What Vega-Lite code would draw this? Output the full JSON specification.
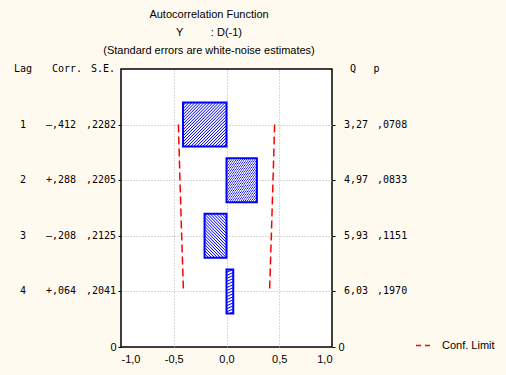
{
  "$schema": "https://vega.github.io/schema/vega-lite/v6.json",
  "autosize": "none",
  "padding": {"left": 121, "top": 69, "right": 174, "bottom": 28},
  "width": 211,
  "height": 278,
  "background": "#fffaef",
  "title": {
    "text": ["Autocorrelation Function", "Y\u00a0\u00a0\u00a0\u00a0\u00a0\u00a0\u00a0\u00a0\u00a0: D(-1)", "(Standard errors are white-noise estimates)"],
    "font": "Liberation Sans",
    "fontSize": 11,
    "fontWeight": "normal",
    "color": "#000000",
    "lineHeight": 18,
    "anchor": "middle",
    "frame": "group",
    "dx": -17.5,
    "offset": 8
  },
  "data": {
    "values": [
      {"lag": 1, "corr": -0.412, "lo": -0.456, "hi": 0.456, "corrText": "–,412", "seText": ",2282", "qText": "3,27", "pText": ",0708"},
      {"lag": 2, "corr": 0.288, "lo": -0.441, "hi": 0.441, "corrText": "+,288", "seText": ",2205", "qText": "4,97", "pText": ",0833"},
      {"lag": 3, "corr": -0.208, "lo": -0.425, "hi": 0.425, "corrText": "–,208", "seText": ",2125", "qText": "5,93", "pText": ",1151"},
      {"lag": 4, "corr": 0.064, "lo": -0.408, "hi": 0.408, "corrText": "+,064", "seText": ",2041", "qText": "6,03", "pText": ",1970"}
    ]
  },
  "resolve": {"axis": {"y": "independent"}},
  "layer": [
    {
      "mark": {
        "type": "bar",
        "orient": "horizontal",
        "size": 44,
        "stroke": "#0000ff",
        "strokeWidth": 2,
        "fill": {
          "gradient": "linear",
          "x1": 0, "y1": 0, "x2": 1, "y2": 1,
          "stops": [
            {"offset": 0, "color": "#0000ff"}, {"offset": 0.0121, "color": "#ffffff"}, {"offset": 0.0224, "color": "#ffffff"},
            {"offset": 0.0345, "color": "#0000ff"}, {"offset": 0.0466, "color": "#ffffff"}, {"offset": 0.0569, "color": "#ffffff"},
            {"offset": 0.069, "color": "#0000ff"}, {"offset": 0.081, "color": "#ffffff"}, {"offset": 0.0914, "color": "#ffffff"},
            {"offset": 0.1034, "color": "#0000ff"}, {"offset": 0.1155, "color": "#ffffff"}, {"offset": 0.1259, "color": "#ffffff"},
            {"offset": 0.1379, "color": "#0000ff"}, {"offset": 0.15, "color": "#ffffff"}, {"offset": 0.1603, "color": "#ffffff"},
            {"offset": 0.1724, "color": "#0000ff"}, {"offset": 0.1845, "color": "#ffffff"}, {"offset": 0.1948, "color": "#ffffff"},
            {"offset": 0.2069, "color": "#0000ff"}, {"offset": 0.219, "color": "#ffffff"}, {"offset": 0.2293, "color": "#ffffff"},
            {"offset": 0.2414, "color": "#0000ff"}, {"offset": 0.2534, "color": "#ffffff"}, {"offset": 0.2638, "color": "#ffffff"},
            {"offset": 0.2759, "color": "#0000ff"}, {"offset": 0.2879, "color": "#ffffff"}, {"offset": 0.2983, "color": "#ffffff"},
            {"offset": 0.3103, "color": "#0000ff"}, {"offset": 0.3224, "color": "#ffffff"}, {"offset": 0.3328, "color": "#ffffff"},
            {"offset": 0.3448, "color": "#0000ff"}, {"offset": 0.3569, "color": "#ffffff"}, {"offset": 0.3672, "color": "#ffffff"},
            {"offset": 0.3793, "color": "#0000ff"}, {"offset": 0.3914, "color": "#ffffff"}, {"offset": 0.4017, "color": "#ffffff"},
            {"offset": 0.4138, "color": "#0000ff"}, {"offset": 0.4259, "color": "#ffffff"}, {"offset": 0.4362, "color": "#ffffff"},
            {"offset": 0.4483, "color": "#0000ff"}, {"offset": 0.4603, "color": "#ffffff"}, {"offset": 0.4707, "color": "#ffffff"},
            {"offset": 0.4828, "color": "#0000ff"}, {"offset": 0.4948, "color": "#ffffff"}, {"offset": 0.5052, "color": "#ffffff"},
            {"offset": 0.5172, "color": "#0000ff"}, {"offset": 0.5293, "color": "#ffffff"}, {"offset": 0.5397, "color": "#ffffff"},
            {"offset": 0.5517, "color": "#0000ff"}, {"offset": 0.5638, "color": "#ffffff"}, {"offset": 0.5741, "color": "#ffffff"},
            {"offset": 0.5862, "color": "#0000ff"}, {"offset": 0.5983, "color": "#ffffff"}, {"offset": 0.6086, "color": "#ffffff"},
            {"offset": 0.6207, "color": "#0000ff"}, {"offset": 0.6328, "color": "#ffffff"}, {"offset": 0.6431, "color": "#ffffff"},
            {"offset": 0.6552, "color": "#0000ff"}, {"offset": 0.6672, "color": "#ffffff"}, {"offset": 0.6776, "color": "#ffffff"},
            {"offset": 0.6897, "color": "#0000ff"}, {"offset": 0.7017, "color": "#ffffff"}, {"offset": 0.7121, "color": "#ffffff"},
            {"offset": 0.7241, "color": "#0000ff"}, {"offset": 0.7362, "color": "#ffffff"}, {"offset": 0.7466, "color": "#ffffff"},
            {"offset": 0.7586, "color": "#0000ff"}, {"offset": 0.7707, "color": "#ffffff"}, {"offset": 0.781, "color": "#ffffff"},
            {"offset": 0.7931, "color": "#0000ff"}, {"offset": 0.8052, "color": "#ffffff"}, {"offset": 0.8155, "color": "#ffffff"},
            {"offset": 0.8276, "color": "#0000ff"}, {"offset": 0.8397, "color": "#ffffff"}, {"offset": 0.85, "color": "#ffffff"},
            {"offset": 0.8621, "color": "#0000ff"}, {"offset": 0.8741, "color": "#ffffff"}, {"offset": 0.8845, "color": "#ffffff"},
            {"offset": 0.8966, "color": "#0000ff"}, {"offset": 0.9086, "color": "#ffffff"}, {"offset": 0.919, "color": "#ffffff"},
            {"offset": 0.931, "color": "#0000ff"}, {"offset": 0.9431, "color": "#ffffff"}, {"offset": 0.9534, "color": "#ffffff"},
            {"offset": 0.9655, "color": "#0000ff"}, {"offset": 0.9776, "color": "#ffffff"}, {"offset": 0.9879, "color": "#ffffff"},
            {"offset": 1, "color": "#0000ff"}
          ]
        }
      },
      "encoding": {
        "x": {
          "field": "corr", "type": "quantitative",
          "scale": {"domain": [-1, 1], "nice": false, "padding": 0},
          "axis": {
            "title": null,
            "values": [-1, -0.5, 0, 0.5, 1],
            "format": ".1f",
            "domain": false,
            "ticks": false,
            "labelFont": "Liberation Sans",
            "labelFontSize": 11,
            "labelColor": "#000000",
            "labelPadding": 6,
            "grid": true,
            "gridColor": "#b0b0b0",
            "gridDash": [1, 2],
            "gridOpacity": {"condition": {"test": "abs(datum.value) == 1", "value": 0}, "value": 1}
          }
        },
        "y": {
          "field": "lag", "type": "quantitative",
          "scale": {"domain": [0, 5], "reverse": true, "nice": false, "zero": false, "padding": 0},
          "axis": {
            "orient": "left",
            "title": null,
            "values": [1, 2, 3, 4, 5],
            "labelExpr": "datum.value == 5 ? '0' : ''",
            "domain": false,
            "ticks": true,
            "tickSize": 3,
            "tickColor": "#000000",
            "labelFont": "Liberation Sans",
            "labelFontSize": 11,
            "labelColor": "#000000",
            "labelPadding": 2,
            "grid": true,
            "gridColor": "#b0b0b0",
            "gridDash": [1, 2],
            "gridOpacity": {"condition": {"test": "datum.value == 5", "value": 0}, "value": 1}
          }
        }
      }
    },
    {
      "transform": [{"fold": ["lo", "hi"], "as": ["side", "limit"]}],
      "mark": {"type": "line", "strokeDash": [8, 4], "strokeWidth": 1.5},
      "encoding": {
        "x": {"field": "limit", "type": "quantitative"},
        "y": {
          "field": "lag", "type": "quantitative",
          "axis": {
            "orient": "right",
            "title": null,
            "values": [1, 2, 3, 4, 5],
            "labelExpr": "datum.value == 5 ? '0' : ''",
            "domain": false,
            "ticks": true,
            "tickSize": 3,
            "tickColor": "#000000",
            "labelFont": "Liberation Sans",
            "labelFontSize": 11,
            "labelColor": "#000000",
            "labelPadding": 3,
            "grid": false
          }
        },
        "detail": {"field": "side"},
        "order": {"field": "lag"},
        "color": {
          "datum": "Conf. Limit",
          "scale": {"range": ["#ff0000"]},
          "legend": {
            "title": null,
            "orient": "none",
            "legendX": 294,
            "legendY": 268,
            "symbolType": "stroke",
            "symbolDash": [5, 4],
            "symbolStrokeWidth": 1.5,
            "symbolSize": 225,
            "labelFont": "Liberation Sans",
            "labelFontSize": 11,
            "labelColor": "#000000",
            "labelOffset": 10
          }
        }
      }
    },
    {
      "mark": {"type": "text", "font": "DejaVu Sans Mono", "fontSize": 10, "align": "center", "baseline": "middle", "color": "#000000"},
      "encoding": {"x": {"datum": -1.929, "type": "quantitative"}, "y": {"field": "lag", "type": "quantitative", "axis": null}, "text": {"field": "lag"}}
    },
    {
      "mark": {"type": "text", "font": "DejaVu Sans Mono", "fontSize": 10, "align": "left", "baseline": "middle", "color": "#000000"},
      "encoding": {"x": {"datum": -1.711, "type": "quantitative"}, "y": {"field": "lag", "type": "quantitative", "axis": null}, "text": {"field": "corrText"}}
    },
    {
      "mark": {"type": "text", "font": "DejaVu Sans Mono", "fontSize": 10, "align": "left", "baseline": "middle", "color": "#000000"},
      "encoding": {"x": {"datum": -1.332, "type": "quantitative"}, "y": {"field": "lag", "type": "quantitative", "axis": null}, "text": {"field": "seText"}}
    },
    {
      "mark": {"type": "text", "font": "DejaVu Sans Mono", "fontSize": 10, "align": "left", "baseline": "middle", "color": "#000000"},
      "encoding": {"x": {"datum": 1.114, "type": "quantitative"}, "y": {"field": "lag", "type": "quantitative", "axis": null}, "text": {"field": "qText"}}
    },
    {
      "mark": {"type": "text", "font": "DejaVu Sans Mono", "fontSize": 10, "align": "left", "baseline": "middle", "color": "#000000"},
      "encoding": {"x": {"datum": 1.427, "type": "quantitative"}, "y": {"field": "lag", "type": "quantitative", "axis": null}, "text": {"field": "pText"}}
    },
    {
      "data": {"values": [{"h": "Lag"}]},
      "mark": {"type": "text", "font": "DejaVu Sans Mono", "fontSize": 10, "align": "left", "baseline": "middle", "color": "#000000"},
      "encoding": {"x": {"datum": -2.014, "type": "quantitative"}, "y": {"datum": 0, "type": "quantitative", "axis": null}, "text": {"field": "h"}}
    },
    {
      "data": {"values": [{"h": "Corr."}]},
      "mark": {"type": "text", "font": "DejaVu Sans Mono", "fontSize": 10, "align": "left", "baseline": "middle", "color": "#000000"},
      "encoding": {"x": {"datum": -1.654, "type": "quantitative"}, "y": {"datum": 0, "type": "quantitative", "axis": null}, "text": {"field": "h"}}
    },
    {
      "data": {"values": [{"h": "S.E."}]},
      "mark": {"type": "text", "font": "DejaVu Sans Mono", "fontSize": 10, "align": "left", "baseline": "middle", "color": "#000000"},
      "encoding": {"x": {"datum": -1.284, "type": "quantitative"}, "y": {"datum": 0, "type": "quantitative", "axis": null}, "text": {"field": "h"}}
    },
    {
      "data": {"values": [{"h": "Q"}]},
      "mark": {"type": "text", "font": "DejaVu Sans Mono", "fontSize": 10, "align": "center", "baseline": "middle", "color": "#000000"},
      "encoding": {"x": {"datum": 1.199, "type": "quantitative"}, "y": {"datum": 0, "type": "quantitative", "axis": null}, "text": {"field": "h"}}
    },
    {
      "data": {"values": [{"h": "p"}]},
      "mark": {"type": "text", "font": "DejaVu Sans Mono", "fontSize": 10, "align": "center", "baseline": "middle", "color": "#000000"},
      "encoding": {"x": {"datum": 1.422, "type": "quantitative"}, "y": {"datum": 0, "type": "quantitative", "axis": null}, "text": {"field": "h"}}
    }
  ],
  "config": {
    "locale": {"number": {"decimal": ",", "thousands": ".", "grouping": [3], "currency": ["", ""], "minus": "-"}},
    "view": {"fill": "#ffffff", "stroke": "#000000", "strokeWidth": 1.5}
  }
}
